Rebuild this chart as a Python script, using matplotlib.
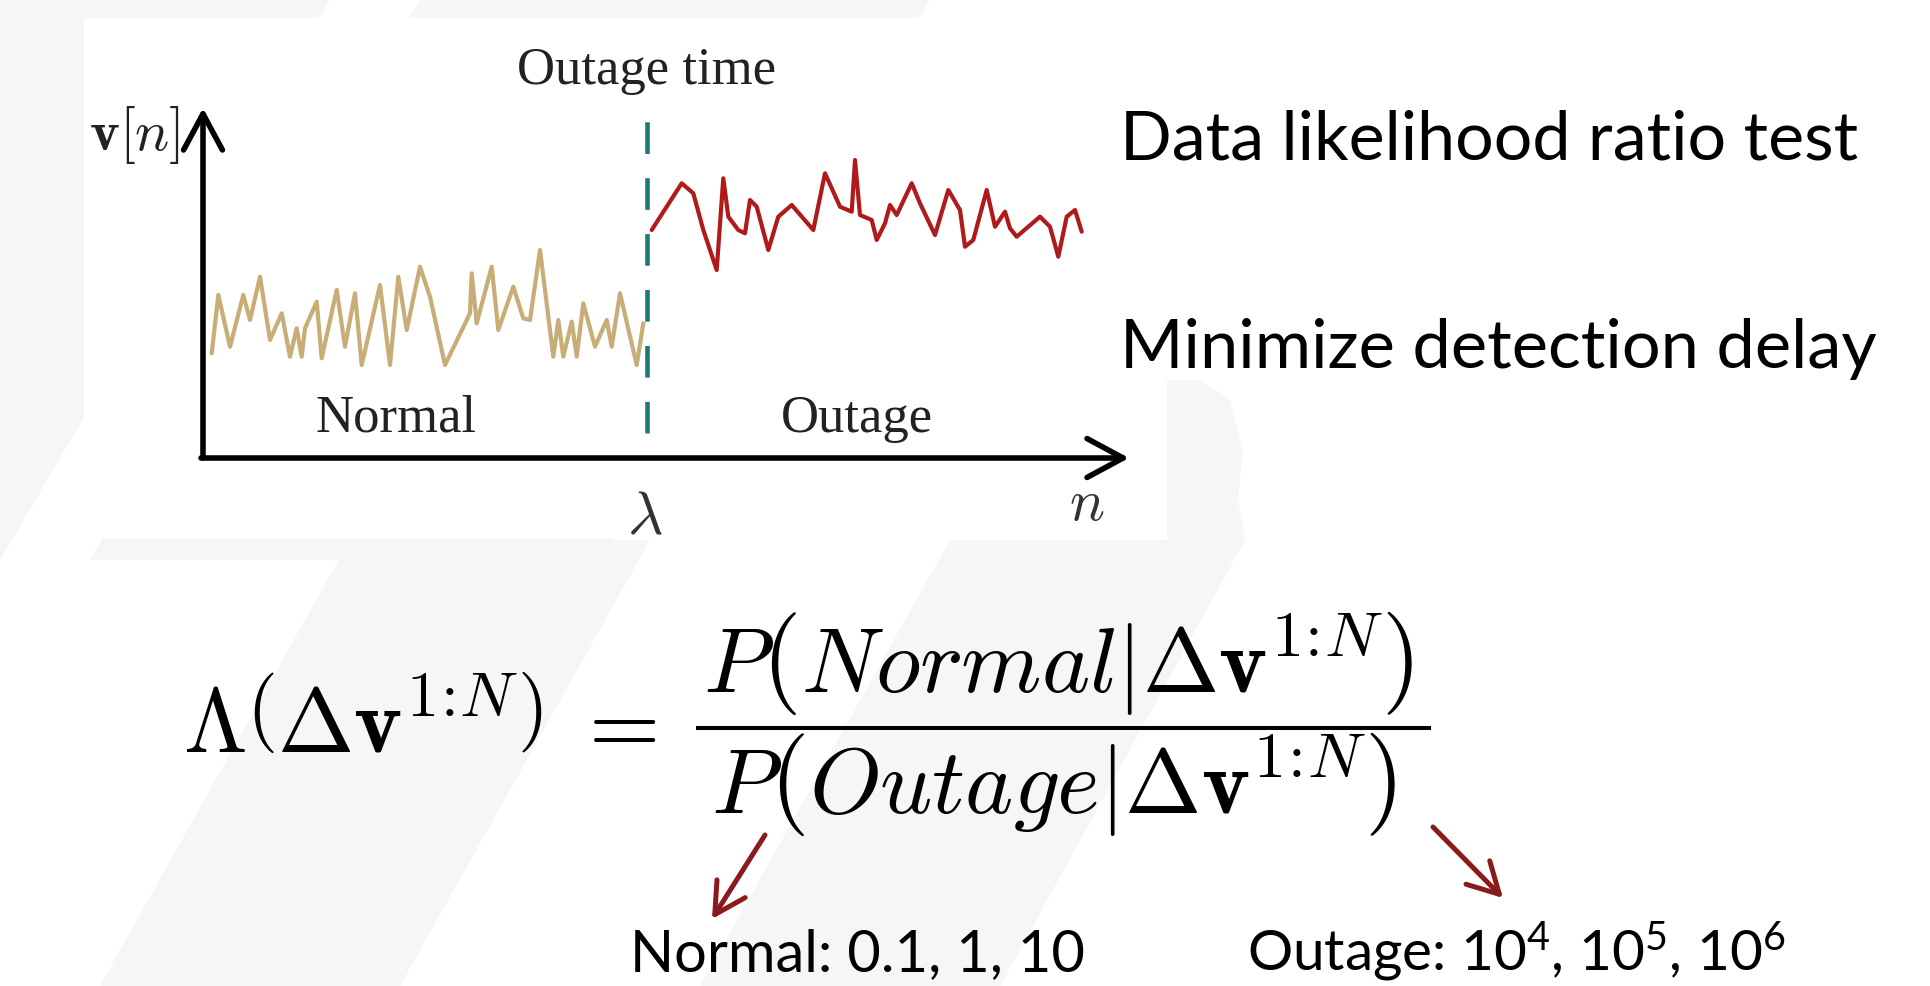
import matplotlib
matplotlib.use("Agg")
import matplotlib.pyplot as plt
from matplotlib.patches import Polygon, Rectangle

W, H, DPI = 1930, 986, 100

# ---------------- data ----------------
normal_n = [0.87, 1.53, 2.7, 4.03, 4.7, 5.7, 6.7, 7.87, 8.7, 9.37, 9.87, 10.2, 11.37,
            11.87, 13.37, 14.2, 15.2, 15.87, 17.7, 18.7, 19.53, 20.37, 21.7, 22.7,
            24.2, 26.7, 26.87, 27.37, 28.87, 29.53, 31.03, 32.03, 32.7, 33.7, 35.03,
            35.53, 36.03, 36.87, 37.37, 38.03, 39.2, 40.37, 40.87, 41.7, 43.37, 44.03]
normal_v = [10.47, 16.3, 11.13, 16.3, 13.8, 18.13, 11.8, 14.47, 10.13, 12.97, 10.13,
            12.97, 15.63, 9.97, 16.8, 11.13, 16.47, 9.3, 17.3, 9.3, 18.13, 12.8, 19.13,
            16.13, 9.3, 14.47, 18.47, 13.47, 19.13, 12.8, 17.13, 13.97, 13.8, 20.8,
            10.13, 13.8, 10.13, 13.63, 10.13, 15.47, 11.13, 13.8, 11.13, 16.47, 9.3, 13.47]

outage_n = [44.87, 47.87, 49.03, 50.03, 51.37, 52.03, 52.53, 53.53, 54.2, 54.7, 55.37,
            56.53, 57.53, 58.87, 61.03, 62.2, 63.7, 64.87, 65.2, 65.7, 66.87, 67.37,
            68.2, 68.7, 69.37, 70.87, 71.7, 73.2, 74.53, 75.7, 76.2, 77.03, 78.37, 79.2,
            80.2, 80.7, 81.37, 82.53, 83.7, 84.7, 85.53, 86.37, 87.2, 87.87]
outage_v = [22.8, 27.47, 26.47, 22.8, 18.8, 27.97, 24.13, 22.8, 22.47, 25.8, 25.13,
            20.8, 24.13, 25.3, 22.8, 28.47, 25.13, 24.63, 29.8, 24.3, 23.8, 21.8, 23.47,
            25.3, 24.3, 27.47, 25.47, 22.3, 26.8, 24.8, 21.13, 21.8, 26.8, 23.13, 24.63,
            22.97, 22.13, 23.13, 24.13, 23.13, 20.13, 24.13, 24.8, 22.63]

outage_time = 44.4          # lambda
n_axis_end = 92.6
v_axis_end = 35.0

label_outage_time = "Outage time"
label_normal = "Normal"
label_outage = "Outage"
bullet_1 = "Data likelihood ratio test"
bullet_2 = "Minimize detection delay"
normal_values = ["0.1", "1", "10"]
outage_exponents = ["4", "5", "6"]

formula_left = r'$\Lambda\left(\Delta\mathbf{v}^{1\!:\!N}\right)$'
formula_num = r'$P\left(Normal|\Delta\mathbf{v}^{1\!:\!N}\right)$'
formula_den = r'$P\left(Outage|\Delta\mathbf{v}^{1\!:\!N}\right)$'

# ---------------- figure ----------------
plt.rcParams['mathtext.rm'] = 'Lato'
plt.rcParams['mathtext.it'] = 'Lato:italic'
plt.rcParams['mathtext.bf'] = 'Lato:bold'

fig = plt.figure(figsize=(W / DPI, H / DPI), dpi=DPI)
fig.patch.set_facecolor('white')

bg = fig.add_axes([0, 0, 1, 1], zorder=0)
bg.set_xlim(0, W)
bg.set_ylim(H, 0)
bg.axis('off')

stripe = '#f6f6f6'
for pts in [
    [(0, 0), (330, 0), (0, 560)],
    [(420, 0), (930, 0), (600, 560), (90, 560)],
    [(350, 540), (650, 540), (400, 986), (100, 986)],
    [(1167, 380), (1200, 380), (1230, 400), (1243, 450), (1238, 500), (1245, 540),
     (1000, 986), (700, 986), (950, 540), (1167, 540)],
]:
    bg.add_patch(Polygon(pts, closed=True, facecolor=stripe, edgecolor='none'))

# white inset of the embedded figure
bg.add_patch(Rectangle((84, 18), 1083, 520, facecolor='white', edgecolor='none'))

# ---------------- inner chart ----------------
ax = fig.add_axes([203 / W, (H - 458) / H, 932 / W, 363 / H], zorder=1)
ax.set_xlim(0, 93.2)
ax.set_ylim(0, 36.3)
ax.axis('off')
ax.patch.set_alpha(0)

ax.plot(normal_n, normal_v, color='#c8ad76', lw=3.0, solid_joinstyle='round',
        solid_capstyle='round')
ax.plot(outage_n, outage_v, color='#b01a1a', lw=3.0, solid_joinstyle='round',
        solid_capstyle='round')
ax.plot([outage_time, outage_time], [2.5, 35.8], color='#1b7b72', lw=3.3,
        ls=(0, (6.9, 5.3)), clip_on=False)

axis_arrow = dict(arrowstyle='->,head_length=0.65,head_width=0.35', lw=4.0,
                  color='black', mutation_scale=40, shrinkA=0, shrinkB=0)
ax.annotate('', xy=(n_axis_end, 0), xytext=(-0.2, 0), arrowprops=axis_arrow,
            annotation_clip=False)
ax.annotate('', xy=(0, v_axis_end), xytext=(0, 0), arrowprops=axis_arrow,
            annotation_clip=False)

# ---------------- texts ----------------
serif = 'Liberation Serif'
bg.text(647, 84, label_outage_time, ha='center', va='baseline', fontsize=38,
        family=serif, color='#222222')
bg.text(396, 432, label_normal, ha='center', va='baseline', fontsize=38,
        family=serif, color='#222222')
bg.text(857, 432, label_outage, ha='center', va='baseline', fontsize=38,
        family=serif, color='#222222')
bg.text(180, 150, r'$\mathbf{v}[n]$', ha='right', va='baseline', fontsize=41,
        math_fontfamily='cm', color='#222222')
bg.text(645, 534, r'$\lambda$', ha='center', va='baseline', fontsize=44,
        math_fontfamily='cm', color='#333333')
bg.text(1087, 520, r'$n$', ha='center', va='baseline', fontsize=42,
        math_fontfamily='cm', color='#333333')

renderer = fig.canvas.get_renderer()


def fit_text(x, y, s, width_px, **kw):
    t = bg.text(x, y, s, fontsize=40, **kw)
    w = t.get_window_extent(renderer).width
    t.set_fontsize(40 * width_px / w)
    return t


sans = 'Lato'
fit_text(1120, 160, bullet_1, 738, ha='left', va='baseline', family=sans, color='black')
fit_text(1120, 368, bullet_2, 755, ha='left', va='baseline', family=sans, color='black')

normal_str = "Normal: " + ", ".join(normal_values)
outage_str = "Outage: " + ", ".join(r"10$^{\mathrm{%s}}$" % e for e in outage_exponents)
fit_text(630, 971, normal_str, 455, ha='left', va='baseline', family=sans, color='black')
fit_text(1247, 971, outage_str, 538, ha='left', va='baseline', family=sans,
         color='black', math_fontfamily='custom')

# formula
fs = 66
bg.text(183, 752, formula_left, ha='left', va='baseline', fontsize=fs,
        math_fontfamily='cm', color='black')
bg.text(614, 752, r'$=$', ha='center', va='baseline', fontsize=fs,
        math_fontfamily='cm', color='black')
bg.text(1058, 692, formula_num, ha='center', va='baseline', fontsize=fs,
        math_fontfamily='cm', color='black')
bg.text(1054, 813, formula_den, ha='center', va='baseline', fontsize=fs,
        math_fontfamily='cm', color='black')
bg.plot([696, 1431], [728, 728], color='black', lw=2.9, solid_capstyle='butt')

# red pointer arrows
red_arrow = dict(arrowstyle='->,head_length=0.55,head_width=0.3', lw=3.6,
                 color='#8b1a1a', mutation_scale=40, shrinkA=0, shrinkB=0)
bg.annotate('', xy=(712, 919), xytext=(765, 835), arrowprops=red_arrow)
bg.annotate('', xy=(1503, 898), xytext=(1433, 827), arrowprops=red_arrow)

fig.savefig('out.png', dpi=DPI, facecolor='white')
